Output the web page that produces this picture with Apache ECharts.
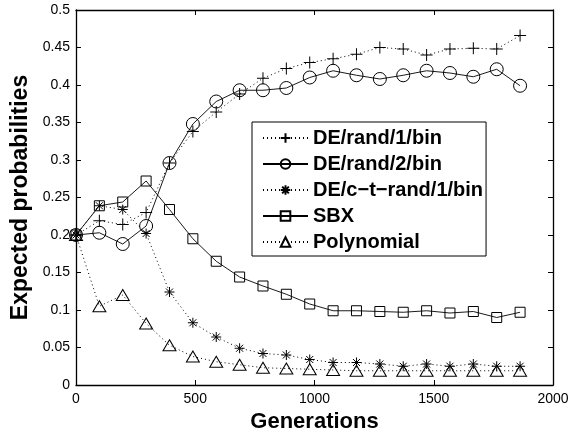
<!DOCTYPE html>
<html>
<head>
<meta charset="utf-8">
<script src="https://cdn.jsdelivr.net/npm/echarts@6/dist/echarts.min.js"></script>
<style>
  html, body { margin: 0; padding: 0; background: #fff; }
  #chart { width: 581px; height: 438px; }
</style>
</head>
<body>
<div id="chart"></div>
<script>
// Sampled generations
const generations = [0, 98, 196, 294, 392, 490, 588, 686, 784, 882, 980, 1078, 1176, 1274, 1372, 1470, 1568, 1666, 1764, 1862];

// Expected selection probability of each operator
const deRand1Bin = [0.200, 0.219, 0.214, 0.230, 0.296, 0.338, 0.364, 0.388, 0.409, 0.422, 0.430, 0.435, 0.441, 0.450, 0.448, 0.440, 0.448, 0.449, 0.448, 0.466];
const deRand2Bin = [0.200, 0.203, 0.188, 0.212, 0.296, 0.348, 0.378, 0.393, 0.393, 0.396, 0.410, 0.419, 0.413, 0.408, 0.413, 0.419, 0.416, 0.411, 0.421, 0.399];
const deCtRand1Bin = [0.200, 0.239, 0.234, 0.202, 0.124, 0.083, 0.064, 0.049, 0.042, 0.040, 0.034, 0.030, 0.030, 0.028, 0.025, 0.028, 0.025, 0.028, 0.025, 0.025];
const sbx = [0.200, 0.239, 0.244, 0.272, 0.234, 0.195, 0.165, 0.144, 0.132, 0.121, 0.108, 0.099, 0.099, 0.098, 0.097, 0.099, 0.096, 0.098, 0.090, 0.097];
const polynomial = [0.200, 0.105, 0.120, 0.082, 0.053, 0.038, 0.031, 0.027, 0.023, 0.022, 0.021, 0.020, 0.019, 0.019, 0.019, 0.019, 0.019, 0.019, 0.019, 0.019];

const seriesNames = ['DE/rand/1/bin', 'DE/rand/2/bin', 'DE/c\u2212t\u2212rand/1/bin', 'SBX', 'Polynomial'];
const xTicks = [0, 500, 1000, 1500, 2000];

const FONT = 'Liberation Sans, Arial, Helvetica, sans-serif';
const PLUS = 'path://M0 5L10 5M5 0L5 10';
const STAR = 'path://M5 0L5 10M0 5L10 5M1.5 1.5L8.5 8.5M8.5 1.5L1.5 8.5';

function pairs(values) {
  return generations.map((g, i) => [g, values[i]]);
}

function makeSeries(name, values, symbol, size, dotted) {
  return {
    name: name,
    type: 'line',
    data: pairs(values),
    symbol: symbol,
    symbolSize: size,
    showAllSymbol: true,
    animation: false,
    lineStyle: { color: '#000', width: dotted ? 1 : 0.9, type: dotted ? [1, 3] : 'solid' },
    itemStyle: { color: 'transparent', borderColor: '#000', borderWidth: 1 },
    emphasis: { disabled: true }
  };
}

// Fresh style objects for each axis of the box
function boxLine() { return { show: true, onZero: false, lineStyle: { color: '#000', width: 1.3 } }; }
function tickIn() { return { show: true, inside: true, length: 5, lineStyle: { color: '#000', width: 1 } }; }
function noLabel() { return { show: true, formatter: () => '' }; }

const chart = echarts.init(document.getElementById('chart'), null, { renderer: 'canvas' });
chart.setOption({
  backgroundColor: '#fff',
  animation: false,
  grid: { left: 76, right: 28, top: 10, bottom: 53 },
  legend: {
    orient: 'vertical',
    left: 252,
    top: 122,
    itemWidth: 45,
    itemHeight: 12,
    itemGap: 6,
    padding: [6, 3, 4, 10],
    backgroundColor: '#fff',
    borderColor: '#000',
    borderWidth: 1,
    data: seriesNames,
    textStyle: { fontFamily: FONT, fontWeight: 'bold', fontSize: 20, color: '#000', lineHeight: 20 }
  },
  xAxis: [{
    type: 'value', min: 0, max: 2000, interval: 500,
    name: 'Generations', nameLocation: 'middle', nameGap: 23,
    nameTextStyle: { fontFamily: FONT, fontWeight: 'bold', fontSize: 22, color: '#000' },
    axisLine: boxLine(), axisTick: tickIn(),
    axisLabel: { fontFamily: FONT, fontSize: 14, color: '#000', margin: 7,
      formatter: v => (xTicks.indexOf(v) >= 0 ? String(v) : '') },
    splitLine: { show: false }
  }, {
    type: 'value', position: 'top', min: 0, max: 2000, interval: 500,
    axisLine: boxLine(), axisTick: tickIn(), axisLabel: noLabel(), splitLine: { show: false }
  }],
  yAxis: [{
    type: 'value', min: 0, max: 0.5, interval: 0.05,
    name: 'Expected probabilities', nameLocation: 'middle', nameGap: 40,
    nameTextStyle: { fontFamily: FONT, fontWeight: 'bold', fontSize: 23, color: '#000' },
    axisLine: boxLine(), axisTick: tickIn(),
    axisLabel: { fontFamily: FONT, fontSize: 14, color: '#000', margin: 6,
      formatter: v => String(+v.toFixed(2)) },
    splitLine: { show: false }
  }, {
    type: 'value', position: 'right', min: 0, max: 0.5, interval: 0.05,
    axisLine: boxLine(), axisTick: tickIn(), axisLabel: noLabel(), splitLine: { show: false }
  }],
  series: [
    makeSeries(seriesNames[0], deRand1Bin, PLUS, 12, true),
    makeSeries(seriesNames[1], deRand2Bin, 'circle', 13, false),
    makeSeries(seriesNames[2], deCtRand1Bin, STAR, 10, true),
    makeSeries(seriesNames[3], sbx, 'rect', 10, false),
    makeSeries(seriesNames[4], polynomial, 'triangle', [13, 11], true)
  ]
});
</script>
</body>
</html>
